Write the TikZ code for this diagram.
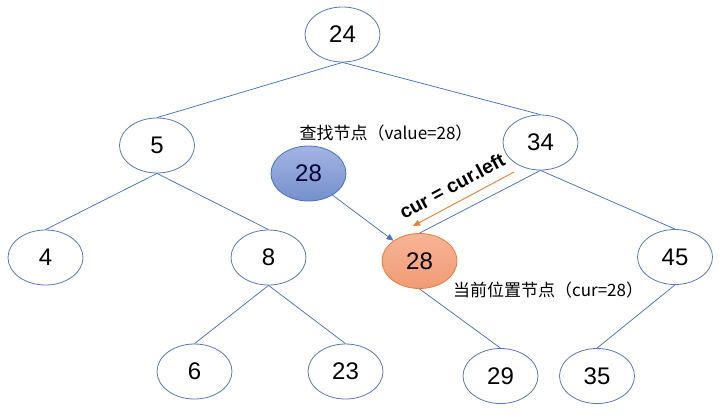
\documentclass[tikz,border=0pt]{standalone}
\usepackage{fontspec}
\setmainfont{Liberation Sans}
\newfontfamily\cjk{Noto Sans CJK SC}
\usetikzlibrary{shapes.geometric,arrows.meta}
\definecolor{edgeblue}{HTML}{4472C4}
\definecolor{ringblue}{HTML}{5A78BE}
\definecolor{accorange}{HTML}{ED7D31}
\definecolor{bluetop}{HTML}{A3B4E2}
\definecolor{bluebot}{HTML}{7590CC}
\definecolor{orgtop}{HTML}{F7B496}
\definecolor{orgbot}{HTML}{F19B76}
\begin{document}
\begin{tikzpicture}[x=1bp,y=-1bp,
  treenode/.style={ellipse,draw=ringblue,line width=0.8bp,fill=white,
    minimum width=75bp,minimum height=55bp,inner sep=0pt,
    font=\fontsize{24bp}{28bp}\selectfont},
  searchnode/.style={treenode,draw=edgeblue,top color=bluetop,bottom color=bluebot,text={black!80!blue}},
  curnode/.style={treenode,draw=accorange,top color=orgtop,bottom color=orgbot},
  edge/.style={draw=edgeblue,line width=0.75bp},
  lbl/.style={font=\cjk\fontsize{17bp}{21bp}\selectfont,inner sep=0pt}
]
\useasboundingbox (0,0) rectangle (725,416);
\node[treenode] (n24) at (342.5,34.5) {24};
\node[treenode] (n5) at (157,145.5) {5};
\node[treenode] (n34) at (540.5,142.5) {34};
\node[searchnode] (s28) at (308.5,173.5) {28};
\node[treenode] (n4) at (45.5,257.5) {4};
\node[treenode] (n8) at (268.5,257.5) {8};
\node[curnode] (c28) at (419.5,261) {28};
\node[treenode] (n45) at (675,257) {45};
\node[treenode] (n6) at (194.5,371.5) {6};
\node[treenode] (n23) at (345.5,371.5) {23};
\node[treenode] (n29) at (500.5,376) {29};
\node[treenode] (n35) at (597,376) {35};

\draw[edge] (n24.south) -- (n5.north);
\draw[edge] (n24.south) -- (n34.north);
\draw[edge] (n5.south) -- (n4.north);
\draw[edge] (n5.south) -- (n8.north);
\draw[edge] (n8.south) -- (n6.north);
\draw[edge] (n8.south) -- (n23.north);
\draw[edge] (n34.south) -- (c28.north);
\draw[edge] (n34.south) -- (n45.north);
\draw[edge] (c28.south) -- (n29.north);
\draw[edge] (n45.south) -- (n35.north);

\draw[edge,-{Triangle[length=7bp,width=6bp]}] (s28.-42) -- (c28.142);

\coordinate (oa) at (514,172);
\coordinate (ob) at (413,226);
\draw[accorange,line width=0.9bp,-{Triangle[length=7bp,width=6bp]}] (oa) -- (ob);
\node[rotate=28.5,font=\bfseries\fontsize{19.5bp}{22bp}\selectfont,inner sep=0pt] (lab) at (452,186) {cur = cur.left};

\node[lbl] (t1) at (386,133) {查找节点（value=28）};
\node[lbl,anchor=west] (t2) at (453,290) {当前位置节点（cur=28）};
\end{tikzpicture}
\end{document}
